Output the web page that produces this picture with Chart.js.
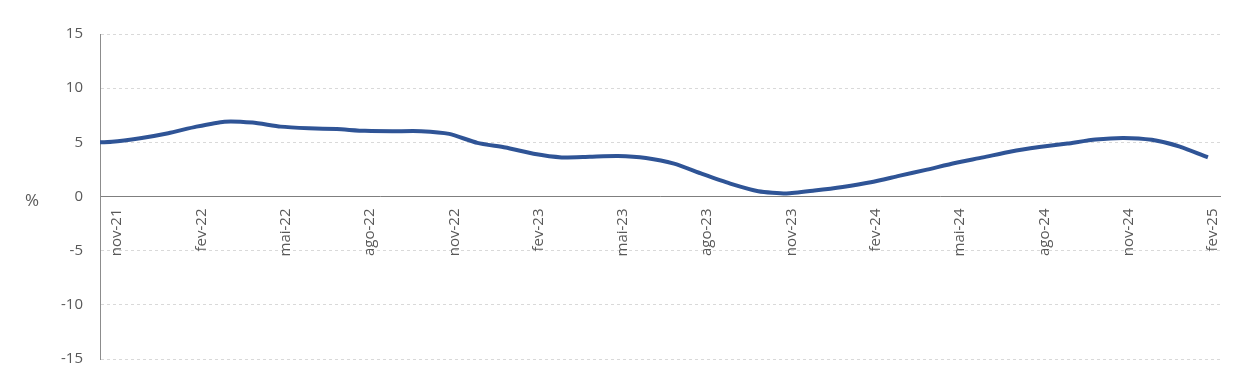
<!DOCTYPE html>
<html>
<head>
<meta charset="utf-8">
<script src="https://cdn.jsdelivr.net/npm/chart.js@4/dist/chart.umd.min.js"></script>
<style>
  html, body { margin: 0; padding: 0; background: #fff; }
  #wrap { position: relative; width: 1258px; height: 390px; }
  #unit { position: absolute; left: 25px; top: 188px; font: 17px 'Open Sans', sans-serif; color: #595959; }
</style>
</head>
<body>
<div id="wrap">
  <canvas id="chart" width="1258" height="390"></canvas>
  <span id="unit">%</span>
</div>
<script>
// monthly series, out-21 .. fev-25 (first point sits just left of the plot and is clipped)
const months = [
  'out-21', 'nov-21', 'dez-21', 'jan-22', 'fev-22', 'mar-22', 'abr-22', 'mai-22', 'jun-22', 'jul-22',
  'ago-22', 'set-22', 'out-22', 'nov-22', 'dez-22', 'jan-23', 'fev-23', 'mar-23', 'abr-23', 'mai-23',
  'jun-23', 'jul-23', 'ago-23', 'set-23', 'out-23', 'nov-23', 'dez-23', 'jan-24', 'fev-24', 'mar-24',
  'abr-24', 'mai-24', 'jun-24', 'jul-24', 'ago-24', 'set-24', 'out-24', 'nov-24', 'dez-24', 'jan-25',
  'fev-25'
];
const values = [
  4.95, 5.05, 5.38, 5.84, 6.45, 6.91, 6.82, 6.45, 6.30, 6.22,
  6.06, 6.03, 6.03, 5.78, 4.95, 4.52, 3.94, 3.61, 3.67, 3.73,
  3.55, 3.03, 2.08, 1.19, 0.49, 0.28, 0.55, 0.88, 1.31, 1.90,
  2.48, 3.09, 3.61, 4.16, 4.56, 4.89, 5.26, 5.41, 5.23, 4.61,
  3.61
];
const tickLabels = ['nov-21', 'fev-22', 'mai-22', 'ago-22', 'nov-22', 'fev-23', 'mai-23',
  'ago-23', 'nov-23', 'fev-24', 'mai-24', 'ago-24', 'nov-24', 'fev-25'];
const yTicks = [-15, -10, -5, 0, 5, 10, 15];

const points = values.map((v, i) => ({ x: i - 1, y: v }));
const tickPos = tickLabels.map(l => months.indexOf(l) - 1);

new Chart(document.getElementById('chart'), {
  type: 'line',
  data: {
    datasets: [{
      data: points,
      borderColor: '#2F5496',
      borderWidth: 4,
      pointRadius: 0,
      tension: 0.2,
      fill: false
    }]
  },
  options: {
    responsive: false,
    animation: false,
    layout: { padding: { left: 0, right: 38, top: 34, bottom: 31 } },
    plugins: { legend: { display: false }, tooltip: { enabled: false } },
    scales: {
      x: {
        type: 'linear',
        position: { y: 0 },
        min: -0.43,
        max: 39.43,
        afterBuildTicks: s => { s.ticks = tickPos.map(v => ({ value: v })); },
        grid: { display: false, drawTicks: false },
        border: { display: true, color: '#7F7F7F', width: 1 },
        ticks: {
          autoSkip: false,
          minRotation: 90,
          maxRotation: 90,
          padding: 12,
          labelOffset: 5,
          color: '#595959',
          font: { family: "'Open Sans', sans-serif", size: 15 },
          callback: v => months[v + 1]
        }
      },
      y: {
        min: -15,
        max: 15,
        afterBuildTicks: s => { s.ticks = yTicks.map(v => ({ value: v })); },
        afterFit: s => { s.width = 100; },
        grid: { color: '#D9D9D9', drawTicks: false },
        border: { display: true, color: '#8C8C8C', width: 1, dash: [3, 3] },
        ticks: { padding: 17, color: '#595959', font: { family: "'Open Sans', sans-serif", size: 15 } }
      }
    }
  }
});
</script>
</body>
</html>
